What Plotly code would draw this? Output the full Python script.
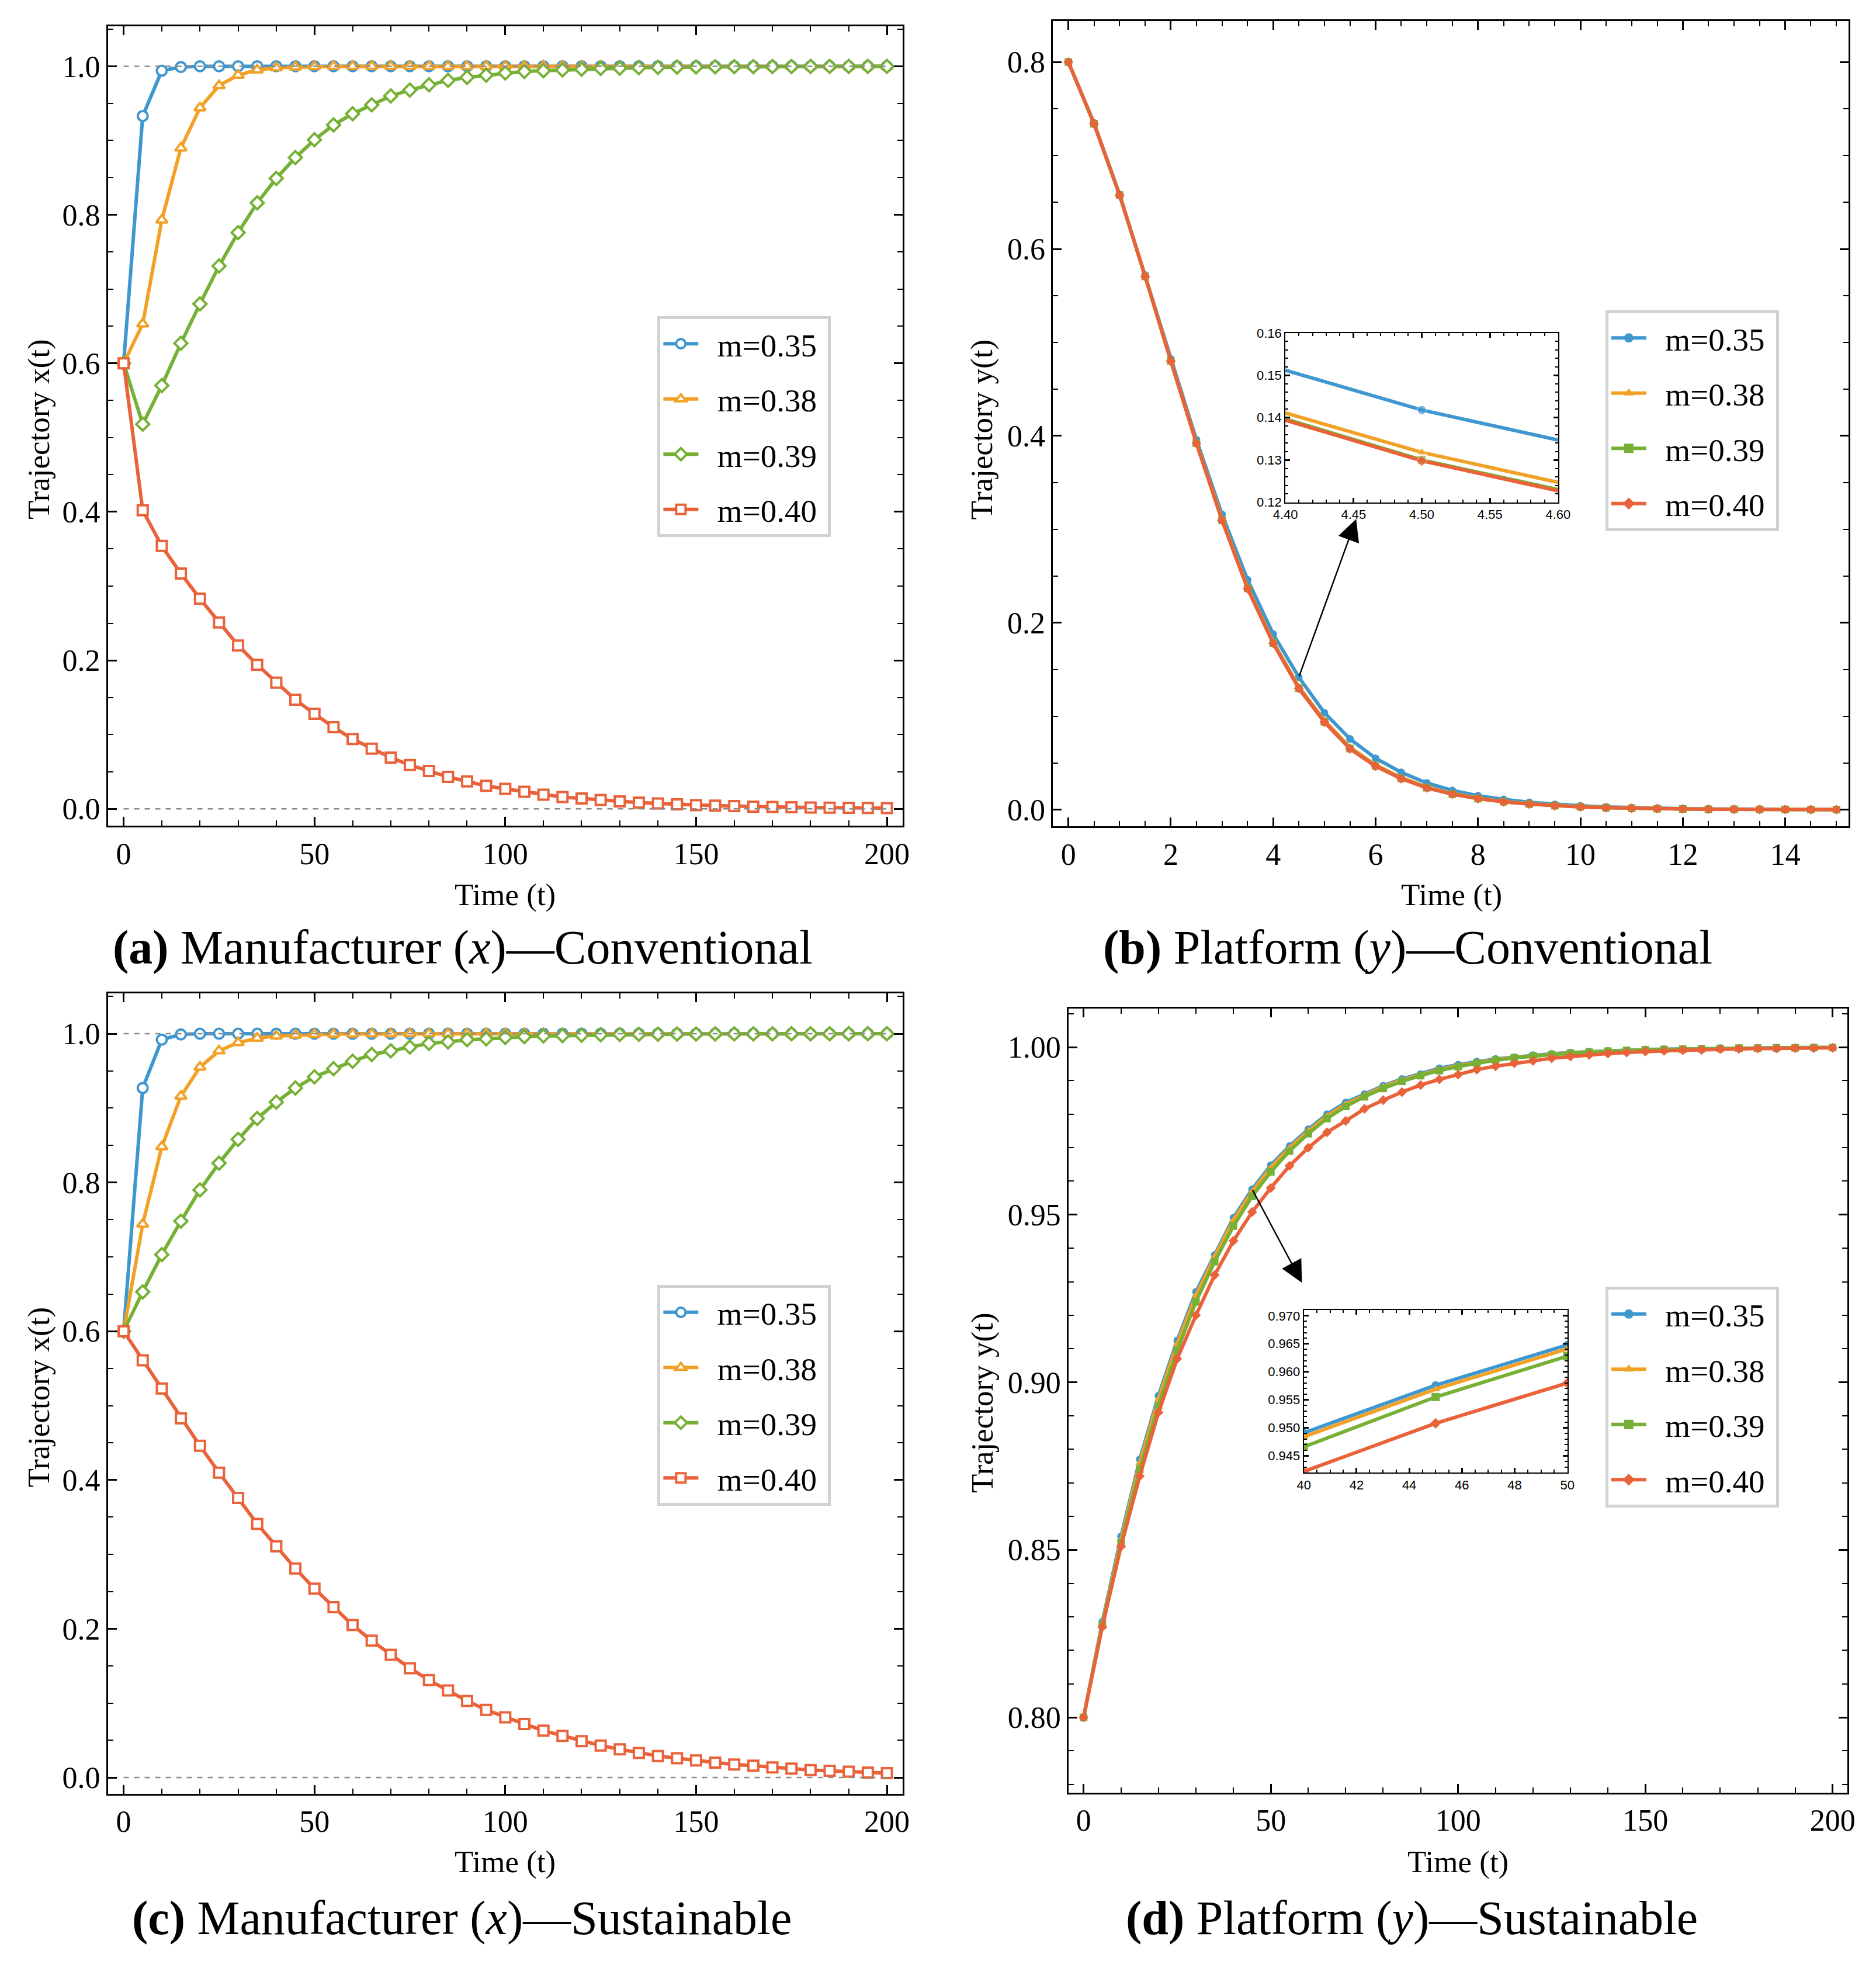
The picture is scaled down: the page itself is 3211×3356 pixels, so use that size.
import plotly.graph_objects as go

W, H = 3211, 3356

names = ["m=0.35", "m=0.38", "m=0.39", "m=0.40"]
colors = ["#3f97cf", "#f2a127", "#76b035", "#e9623a"]
open_symbols = ["circle", "triangle-up", "diamond", "square"]
filled_symbols = ["circle", "triangle-up", "square", "diamond"]

# time grids
t_long = [0, 5, 10, 15, 20, 25, 30, 35, 40, 45, 50, 55, 60, 65, 70, 75, 80, 85, 90, 95, 100,
          105, 110, 115, 120, 125, 130, 135, 140, 145, 150, 155, 160, 165, 170, 175, 180, 185, 190, 195, 200]
t_short = [0, 0.5, 1, 1.5, 2, 2.5, 3, 3.5, 4, 4.5, 5, 5.5, 6, 6.5, 7, 7.5, 8, 8.5, 9, 9.5, 10,
           10.5, 11, 11.5, 12, 12.5, 13, 13.5, 14, 14.5, 15]

# (a) manufacturer x, conventional
a_035 = [0.600, 0.933, 0.994, 0.999] + [1.000] * 37
a_038 = [0.600, 0.653, 0.793, 0.890, 0.944, 0.974, 0.988, 0.995, 0.998, 0.999, 0.9995] + [1.000] * 30
a_039 = [0.600, 0.518, 0.570, 0.627, 0.680, 0.731, 0.776, 0.816, 0.849, 0.877, 0.901, 0.921, 0.936,
         0.948, 0.960, 0.968, 0.975, 0.981, 0.985, 0.988, 0.991,
         0.993, 0.994, 0.995, 0.996, 0.997, 0.9975, 0.998, 0.9985, 0.9988, 0.999, 0.9992, 0.9994,
         0.9995, 0.9996, 0.9997, 0.9998, 0.9998, 0.9999, 0.9999, 0.9999]
a_040 = [0.600, 0.402, 0.354, 0.317, 0.283, 0.251, 0.220, 0.194, 0.170, 0.147, 0.128, 0.110, 0.094,
         0.081, 0.069, 0.059, 0.051, 0.043, 0.037, 0.031, 0.027,
         0.023, 0.019, 0.016, 0.014, 0.012, 0.010, 0.0085, 0.0072, 0.006, 0.005, 0.0044, 0.0037,
         0.003, 0.0026, 0.0022, 0.0018, 0.0015, 0.0013, 0.0011, 0.0009]

# (b) platform y, conventional
b_035 = [0.800, 0.735, 0.6585, 0.572, 0.4824, 0.396, 0.316, 0.246, 0.188, 0.1418,
         0.1037, 0.0757, 0.055, 0.040, 0.0286, 0.0206, 0.015, 0.011, 0.008, 0.0058, 0.0042,
         0.003, 0.0022, 0.0016, 0.0011, 0.0008, 0.0006, 0.0004, 0.0003, 0.0002, 0.00015]
b_038 = [0.800, 0.7345, 0.658, 0.571, 0.4805, 0.393, 0.311, 0.238, 0.1795, 0.1318,
         0.0955, 0.0668, 0.048, 0.0344, 0.0243, 0.0173, 0.0123, 0.0088, 0.0063, 0.0045, 0.0032,
         0.0023, 0.0016, 0.0012, 0.0008, 0.0006, 0.0004, 0.0003, 0.0002, 0.00015, 0.0001]
b_039 = [0.800, 0.734, 0.6577, 0.5707, 0.4802, 0.3922, 0.3098, 0.2368, 0.1783, 0.1300,
         0.0940, 0.0654, 0.0467, 0.0334, 0.0235, 0.0167, 0.0119, 0.0085, 0.0061, 0.0043, 0.0031,
         0.0022, 0.0015, 0.0011, 0.0008, 0.0005, 0.0004, 0.0003, 0.0002, 0.00014, 0.0001]
b_040 = [0.800, 0.734, 0.6575, 0.5705, 0.480, 0.392, 0.3096, 0.2365, 0.178, 0.1298,
         0.0937, 0.0651, 0.0465, 0.0332, 0.0233, 0.0166, 0.0118, 0.0084, 0.006, 0.0042, 0.003,
         0.0021, 0.0015, 0.0011, 0.0008, 0.0005, 0.0004, 0.0003, 0.0002, 0.00014, 0.0001]

# zoomed window of (b)
t_zoom_b = [4.40, 4.50, 4.60]
zb_035 = [0.1512, 0.1418, 0.1347]
zb_038 = [0.1411, 0.1318, 0.1247]
zb_039 = [0.1397, 0.1300, 0.1230]
zb_040 = [0.1394, 0.1298, 0.1227]

# (c) manufacturer x, sustainable
c_035 = [0.600, 0.927, 0.992, 0.999] + [1.000] * 37
c_038 = [0.600, 0.744, 0.848, 0.916, 0.955, 0.977, 0.988, 0.994, 0.997, 0.998, 0.999,
         0.9995, 0.9997, 0.9998, 0.9999] + [1.000] * 26
c_039 = [0.600, 0.653, 0.703, 0.748, 0.790, 0.826, 0.858, 0.886, 0.908, 0.927, 0.942, 0.953, 0.963,
         0.972, 0.977, 0.982, 0.987, 0.989, 0.992, 0.993, 0.995,
         0.996, 0.997, 0.9975, 0.998, 0.9985, 0.999, 0.9992, 0.9994, 0.9995, 0.9996, 0.9997, 0.9997,
         0.9998, 0.9998, 0.9999, 0.9999, 0.9999, 1.000, 1.000, 1.000]
c_040 = [0.600, 0.561, 0.523, 0.483, 0.446, 0.410, 0.376, 0.341, 0.311, 0.281, 0.254, 0.229, 0.205,
         0.184, 0.165, 0.147, 0.131, 0.117, 0.103, 0.091, 0.081,
         0.072, 0.063, 0.056, 0.049, 0.043, 0.038, 0.033, 0.029, 0.026, 0.023, 0.020, 0.0175,
         0.016, 0.0135, 0.012, 0.010, 0.009, 0.0078, 0.0068, 0.006]

# (d) platform y, sustainable
d_035 = [0.800, 0.8285, 0.854, 0.877, 0.896, 0.9125, 0.927, 0.938, 0.9491, 0.9576, 0.9648,
         0.9705, 0.9755, 0.980, 0.9835, 0.986, 0.9885, 0.9905, 0.992, 0.9937, 0.9948,
         0.9957, 0.9965, 0.997, 0.9976, 0.998, 0.9984, 0.9987, 0.9989, 0.9991, 0.9993,
         0.9994, 0.9995, 0.9996, 0.9997, 0.9997, 0.9998, 0.9998, 0.9999, 0.9999, 0.9999]
d_038 = [0.800, 0.828, 0.853, 0.876, 0.895, 0.9115, 0.926, 0.9375, 0.9484, 0.9569, 0.9641,
         0.9700, 0.9750, 0.9795, 0.9830, 0.9857, 0.9882, 0.9902, 0.9918, 0.9933, 0.9945,
         0.9955, 0.9963, 0.9969, 0.9975, 0.9979, 0.9983, 0.9986, 0.9988, 0.9990, 0.9992,
         0.9993, 0.9994, 0.9995, 0.9996, 0.9997, 0.9997, 0.9998, 0.9998, 0.9999, 0.9999]
d_039 = [0.800, 0.8275, 0.852, 0.874, 0.893, 0.9095, 0.924, 0.936, 0.9466, 0.9555, 0.9628,
         0.9690, 0.9742, 0.9787, 0.9823, 0.9852, 0.9877, 0.9898, 0.9915, 0.9930, 0.9942,
         0.9952, 0.9961, 0.9968, 0.9974, 0.9978, 0.9982, 0.9985, 0.9988, 0.9990, 0.9992,
         0.9993, 0.9994, 0.9995, 0.9996, 0.9997, 0.9997, 0.9998, 0.9998, 0.9999, 0.9999]
d_040 = [0.800, 0.827, 0.851, 0.872, 0.891, 0.907, 0.920, 0.932, 0.9422, 0.9508, 0.9580,
         0.9646, 0.970, 0.9746, 0.978, 0.9816, 0.9842, 0.9866, 0.9887, 0.9904, 0.9918,
         0.9933, 0.9943, 0.9952, 0.9959, 0.9967, 0.9972, 0.9977, 0.9981, 0.9984, 0.9987,
         0.9989, 0.9991, 0.9992, 0.9994, 0.9995, 0.9996, 0.9996, 0.9997, 0.9997, 0.9998]

equilibria = [0.0, 1.0]

captions = ["<b>(a)</b> Manufacturer (<i>x</i>)—Conventional",
            "<b>(b)</b> Platform (<i>y</i>)—Conventional",
            "<b>(c)</b> Manufacturer (<i>x</i>)—Sustainable",
            "<b>(d)</b> Platform (<i>y</i>)—Sustainable"]

SERIF = "Liberation Serif"
SANS = "Liberation Sans"
PAD = "&nbsp;&nbsp;"


def px_x(p):
    return p / W


def px_y(p):
    return 1 - p / H


def frame_axis(rng, dtick, minor, fmt, domain, anchor, size=52, family=SERIF,
               ticklen=15, minorlen=9, lw=3):
    return dict(range=rng, dtick=dtick, tick0=0, tickformat=fmt, domain=domain, anchor=anchor,
                ticks="inside", ticklen=ticklen, tickwidth=2.5, tickcolor="black",
                minor=dict(dtick=minor, ticks="inside", ticklen=minorlen, tickwidth=2, tickcolor="black"),
                showline=True, linecolor="black", linewidth=lw, mirror="ticks",
                showgrid=False, zeroline=False,
                tickfont=dict(family=family, size=size, color="black"))


def legend_box(x, y):
    return dict(x=px_x(x), y=px_y(y), xanchor="left", yanchor="top", bgcolor="white",
                bordercolor="#d2d2d2", borderwidth=5, tracegroupgap=20, traceorder="grouped",
                itemwidth=60, font=dict(family=SERIF, size=55, color="black"))


fig = go.Figure()

# panels a and c: open markers with reference lines
for ax, leg, series in [("", "legend", [a_035, a_038, a_039, a_040]),
                        ("3", "legend3", [c_035, c_038, c_039, c_040])]:
    for i, ys in enumerate(series):
        fig.add_trace(go.Scatter(
            x=t_long, y=ys, mode="lines+markers", name=PAD + names[i] + "&nbsp;", legend=leg,
            legendgroup=leg + str(i), xaxis="x" + ax, yaxis="y" + ax,
            line=dict(color=colors[i], width=6),
            marker=dict(symbol=open_symbols[i], size=17, color="white",
                        line=dict(color=colors[i], width=4))))
    for level in equilibria:
        fig.add_trace(go.Scatter(
            x=[t_long[0], t_long[-1]], y=[level, level], mode="lines", showlegend=False,
            xaxis="x" + ax, yaxis="y" + ax, line=dict(color="#8c8c8c", width=2.5, dash="dash")))

# panels b and d: filled markers; legend entries get their own larger symbols
for ax, leg, tx, series in [("2", "legend2", t_short, [b_035, b_038, b_039, b_040]),
                            ("4", "legend4", t_long, [d_035, d_038, d_039, d_040])]:
    for i, ys in enumerate(series):
        fig.add_trace(go.Scatter(
            x=tx, y=ys, mode="lines+markers", showlegend=False,
            xaxis="x" + ax, yaxis="y" + ax,
            line=dict(color=colors[i], width=6),
            marker=dict(symbol=filled_symbols[i], size=13, color=colors[i])))
    for i in range(len(names)):
        fig.add_trace(go.Scatter(
            x=[None], y=[None], mode="lines+markers", name=PAD + names[i] + "&nbsp;", legend=leg,
            legendgroup=leg + str(i), xaxis="x" + ax, yaxis="y" + ax,
            line=dict(color=colors[i], width=6),
            marker=dict(symbol=filled_symbols[i], size=16, color=colors[i])))

# inset of b
for i, ys in enumerate([zb_035, zb_038, zb_039, zb_040]):
    fig.add_trace(go.Scatter(
        x=t_zoom_b, y=ys, mode="lines+markers", showlegend=False, xaxis="x5", yaxis="y5",
        line=dict(color=colors[i], width=6),
        marker=dict(symbol=filled_symbols[i], size=[0, 15, 0], color=colors[i])))

# inset of d (window 40..50 of the main series)
lo, hi = t_long.index(40), t_long.index(50) + 1
for i, ys in enumerate([d_035, d_038, d_039, d_040]):
    fig.add_trace(go.Scatter(
        x=t_long[lo:hi], y=ys[lo:hi], mode="lines+markers", showlegend=False,
        xaxis="x6", yaxis="y6", line=dict(color=colors[i], width=6),
        marker=dict(symbol=filled_symbols[i], size=14, color=colors[i])))

# plot frames in pixels: left, right, top, bottom
frame_a = (166, 1544, 33, 1412)
frame_b = (1805, 3185, 24, 1413)
frame_c = (166, 1544, 1701, 3081)
frame_d = (1832, 3183, 1727, 3079)
frame_ib = (2208, 2681, 562, 854)
frame_id = (2240, 2697, 2247, 2527)


def dom(f):
    return [px_x(f[0]), px_x(f[1])], [px_y(f[3]), px_y(f[2])]


xa, ya = dom(frame_a)
xb, yb = dom(frame_b)
xc, yc = dom(frame_c)
xd, yd = dom(frame_d)
xib, yib = dom(frame_ib)
xid, yid = dom(frame_id)

fig.update_layout(
    width=W, height=H, margin=dict(l=0, r=0, t=0, b=0),
    paper_bgcolor="white", plot_bgcolor="white",
    xaxis=frame_axis([-4.1, 204.1], 50, 10, "d", xa, "y"),
    yaxis=frame_axis([-0.023, 1.054], 0.2, 0.05, ".1f", ya, "x"),
    xaxis2=frame_axis([-0.3, 15.24], 2, 0.5, "d", xb, "y2"),
    yaxis2=frame_axis([-0.018, 0.844], 0.2, 0.05, ".1f", yb, "x2"),
    xaxis3=frame_axis([-4.1, 204.1], 50, 10, "d", xc, "y3"),
    yaxis3=frame_axis([-0.022, 1.054], 0.2, 0.05, ".1f", yc, "x3"),
    xaxis4=frame_axis([-4.0, 204.0], 50, 10, "d", xd, "y4"),
    yaxis4=frame_axis([0.7775, 1.0115], 0.05, 0.01, ".2f", yd, "x4"),
    xaxis5=frame_axis([4.40, 4.60], 0.05, 0.01, ".2f", xib, "y5", size=22, family=SANS,
                      ticklen=8, minorlen=5, lw=2),
    yaxis5=frame_axis([0.12, 0.16], 0.01, 0.002, ".2f", yib, "x5", size=22, family=SANS,
                      ticklen=8, minorlen=5, lw=2),
    xaxis6=frame_axis([40, 50], 2, 0.5, "d", xid, "y6", size=22, family=SANS,
                      ticklen=8, minorlen=5, lw=2),
    yaxis6=frame_axis([0.942, 0.971], 0.005, 0.001, ".3f", yid, "x6", size=22, family=SANS,
                      ticklen=8, minorlen=5, lw=2),
    legend=legend_box(1119, 533),
    legend2=legend_box(2763, 523),
    legend3=legend_box(1119, 2203),
    legend4=legend_box(2763, 2206),
)

annotations = []

# axis titles
title_font = dict(family=SERIF, size=53, color="black")
for cx, cy, text, angle in [(46, 728, "Trajectory x(t)", -90), (855, 1531, "Time (t)", 0),
                            (1682, 728, "Trajectory y(t)", -90), (2496, 1531, "Time (t)", 0),
                            (46, 2397, "Trajectory x(t)", -90), (855, 3198, "Time (t)", 0),
                            (1682, 2406, "Trajectory y(t)", -90), (2507, 3198, "Time (t)", 0)]:
    annotations.append(dict(x=px_x(cx), y=px_y(cy), xref="paper", yref="paper", text=text,
                            showarrow=False, textangle=angle, font=title_font,
                            xanchor="center", yanchor="middle"))

# captions
for (cx, cy), text in zip([(781, 1622), (2420, 1622), (780, 3295), (2427, 3295)], captions):
    annotations.append(dict(x=px_x(cx), y=px_y(cy), xref="paper", yref="paper", text=text,
                            showarrow=False, font=dict(family=SERIF, size=82, color="black"),
                            xanchor="center", yanchor="middle"))

# arrows from the curves to the insets
arrow_b_head = (5.62, 0.311)
arrow_d_head = (58.3, 0.9297)
i_b = t_short.index(4.5)
i_d = t_long.index(45)
for ax, tail, head in [("2", (t_short[i_b], b_035[i_b]), arrow_b_head),
                       ("4", (t_long[i_d], d_035[i_d]), arrow_d_head)]:
    annotations.append(dict(x=head[0], y=head[1], ax=tail[0], ay=tail[1], text="",
                            xref="x" + ax, yref="y" + ax, axref="x" + ax, ayref="y" + ax,
                            showarrow=True, arrowhead=2, arrowsize=3, arrowwidth=2.5,
                            arrowcolor="black"))

fig.update_layout(annotations=annotations)

fig.write_html("out.html", config={"displayModeBar": False},
               post_script="document.body.style.margin = '0px';")
